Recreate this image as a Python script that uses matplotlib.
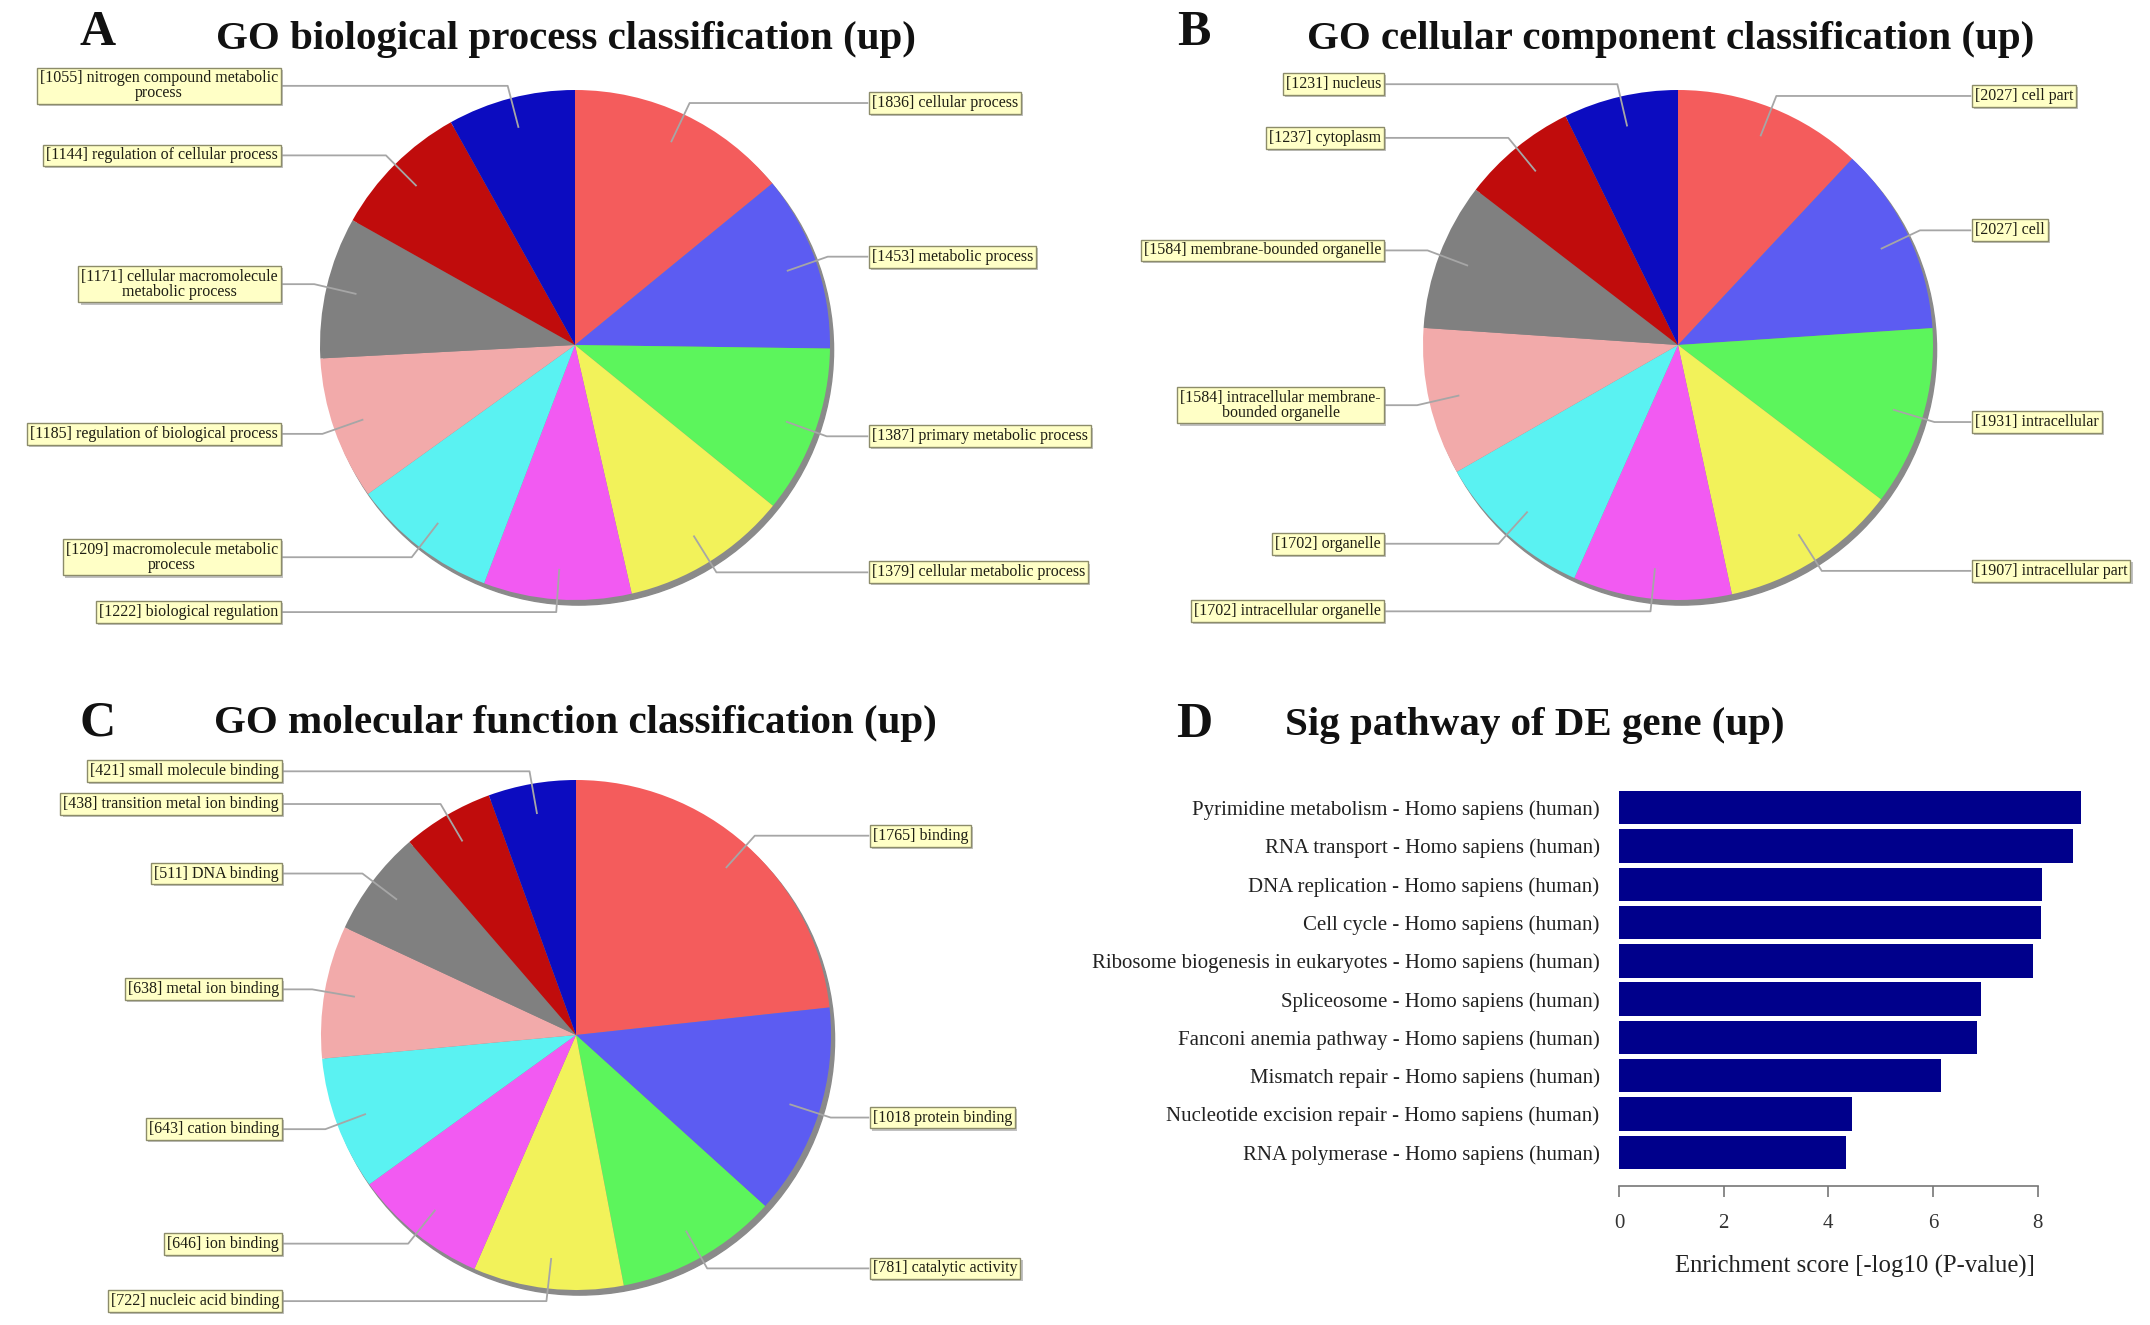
import numpy as np
import matplotlib
matplotlib.use("Agg")
import matplotlib.pyplot as plt
import matplotlib.patheffects as pe
from matplotlib.patches import Circle

plt.rcParams['font.family'] = ['Liberation Serif', 'DejaVu Serif']

# ---------------- data ----------------
bp_labels = ["[1836] cellular process", "[1453] metabolic process",
             "[1387] primary metabolic process", "[1379] cellular metabolic process",
             "[1222] biological regulation", "[1209] macromolecule metabolic\nprocess",
             "[1185] regulation of biological process",
             "[1171] cellular macromolecule\nmetabolic process",
             "[1144] regulation of cellular process",
             "[1055] nitrogen compound metabolic\nprocess"]
bp_counts = [1836, 1453, 1387, 1379, 1222, 1209, 1185, 1171, 1144, 1055]

cc_labels = ["[2027] cell part", "[2027] cell", "[1931] intracellular",
             "[1907] intracellular part", "[1702] intracellular organelle",
             "[1702] organelle", "[1584] intracellular membrane-\nbounded organelle",
             "[1584] membrane-bounded organelle", "[1237] cytoplasm", "[1231] nucleus"]
cc_counts = [2027, 2027, 1931, 1907, 1702, 1702, 1584, 1584, 1237, 1231]

mf_labels = ["[1765] binding", "[1018 protein binding", "[781] catalytic activity",
             "[722] nucleic acid binding", "[646] ion binding", "[643] cation binding",
             "[638] metal ion binding", "[511] DNA binding",
             "[438] transition metal ion binding", "[421] small molecule binding"]
mf_counts = [1765, 1018, 781, 722, 646, 643, 638, 511, 438, 421]

pw_names = ["Pyrimidine metabolism - Homo sapiens (human)",
            "RNA transport - Homo sapiens (human)",
            "DNA replication - Homo sapiens (human)",
            "Cell cycle - Homo sapiens (human)",
            "Ribosome biogenesis in eukaryotes - Homo sapiens (human)",
            "Spliceosome - Homo sapiens (human)",
            "Fanconi anemia pathway - Homo sapiens (human)",
            "Mismatch repair - Homo sapiens (human)",
            "Nucleotide excision repair - Homo sapiens (human)",
            "RNA polymerase - Homo sapiens (human)"]
pw_scores = [8.83, 8.68, 8.09, 8.06, 7.91, 6.91, 6.85, 6.16, 4.45, 4.33]
x_ticks = [0, 2, 4, 6, 8]

# ---------------- style ----------------
COLORS = ['#F45C5C', '#5C5CF2', '#5CF55C', '#F2F25A', '#F25AF2',
          '#5AF2F2', '#F2AAAA', '#808080', '#C00C0C', '#0C0CC0']
W, H, DPI = 2150, 1325, 100
fig = plt.figure(figsize=(W / DPI, H / DPI), dpi=DPI)
fig.patch.set_facecolor('white')


def pie_panel(cx, cy, R, counts, labels):
    ax = fig.add_axes([(cx - 2.2 * R) / W, (H - cy - 1.25 * R) / H,
                       4.4 * R / W, 2.5 * R / H])
    ax.add_patch(Circle((0.014, -0.02), 1.0, color='#8a8a8a', zorder=0))
    ax.pie(counts, colors=COLORS, startangle=90, counterclock=False,
           radius=1, wedgeprops=dict(linewidth=0, zorder=1))
    ax.set_xlim(-2.2, 2.2)
    ax.set_ylim(-1.25, 1.25)
    ax.set_aspect('equal')
    ax.axis('off')
    total = float(sum(counts))
    cum = 0.0
    for n, lab in zip(counts, labels):
        mid = np.deg2rad((cum + n / 2.0) / total * 360.0)
        cum += n
        dx, dy = np.sin(mid), np.cos(mid)
        side = 1 if dx > 0 else -1
        x0, y0 = 0.88 * dx, 0.88 * dy
        x1, y1 = 1.05 * dx, 1.05 * dy
        ax.plot([x0, x1, side * 1.15], [y0, y1, y1], color='#a6a6a6',
                lw=1.3, zorder=2, solid_capstyle='butt', clip_on=False)
        t = ax.text(side * 1.165, y1, lab, ha='left' if side > 0 else 'right',
                    va='center', fontsize=11.5, color='#1e1e14',
                    multialignment='center', linespacing=0.9, zorder=3,
                    bbox=dict(boxstyle='square,pad=0.18', facecolor='#FFFFC6',
                              edgecolor='#8c8c6a', linewidth=1.0))
        t.get_bbox_patch().set_path_effects(
            [pe.SimplePatchShadow(offset=(1.5, -1.5), shadow_rgbFace='#999999', alpha=0.6),
             pe.Normal()])
    return ax


pie_panel(575, 345, 255, bp_counts, bp_labels)
pie_panel(1678, 345, 255, cc_counts, cc_labels)
pie_panel(576, 1035, 255, mf_counts, mf_labels)

# ---------------- bar panel ----------------
axd = fig.add_axes([1619 / W, (H - 1171.5) / H, 471 / W, 383 / H])
ypos = np.arange(len(pw_names))
axd.barh(ypos, pw_scores, height=0.87, color='#00008B')
axd.set_ylim(len(pw_names) - 0.5, -0.5)
axd.set_xlim(0, 9)
axd.set_yticks(ypos, pw_names)
axd.set_xticks(x_ticks)
axd.tick_params(axis='y', length=0, pad=14, labelsize=15, labelcolor='#222222')
axd.tick_params(axis='x', length=8, width=1.2, pad=12, labelsize=15,
                color='#777777', labelcolor='#333333')
for s in ['top', 'right', 'left']:
    axd.spines[s].set_visible(False)
axd.spines['bottom'].set_position(('outward', 10.4))
axd.spines['bottom'].set_bounds(0, 8)
axd.spines['bottom'].set_color('#777777')
axd.spines['bottom'].set_linewidth(1.2)
axd.set_facecolor('none')
axd.set_xlabel('Enrichment score [-log10 (P-value)]', fontsize=17.8, labelpad=16,
               color='#222222')

# ---------------- titles ----------------
titles = [(566, 40, "GO biological process classification (up)"),
          (1671, 40, "GO cellular component classification (up)"),
          (575, 724, "GO molecular function classification (up)"),
          (1535, 725, "Sig pathway of DE gene (up)")]
for x, y, s in titles:
    fig.text(x / W, 1 - y / H, s, ha='center', va='center', fontsize=29.5,
             fontweight='bold', color='#111111')
letters = [(98, 33, 'A'), (1194, 33, 'B'), (98, 723, 'C'), (1194, 725, 'D')]
for x, y, s in letters:
    fig.text(x / W, 1 - y / H, s, ha='center', va='center', fontsize=36,
             fontweight='bold', color='#111111')

fig.savefig('out.png', dpi=DPI, facecolor='white')
